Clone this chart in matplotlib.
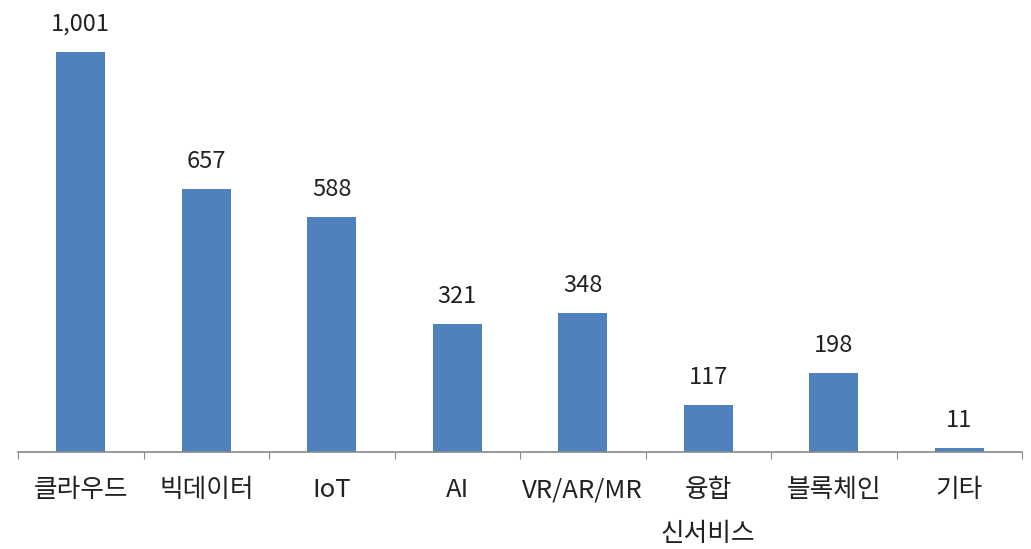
import matplotlib.pyplot as plt

plt.rcParams['font.family'] = ['Noto Sans CJK KR', 'DejaVu Sans']

categories = ['클라우드', '빅데이터', 'IoT', 'AI', 'VR/AR/MR', '융합\n신서비스', '블록체인', '기타']
values = [1001, 657, 588, 321, 348, 117, 198, 11]
value_labels = ['1,001', '657', '588', '321', '348', '117', '198', '11']

fig = plt.figure(figsize=(10.31, 5.49), dpi=100)
ax = fig.add_axes([18 / 1031, 97 / 549, 1004 / 1031, 452 / 549])

x = range(len(categories))
bars = ax.bar(x, values, width=0.39, color='#4f81bd')

for b, lab in zip(bars, value_labels):
    ax.text(b.get_x() + b.get_width() / 2, b.get_height() + 40, lab,
            ha='center', va='bottom', fontsize=17, color='#222222')

ax.set_xlim(-0.5, len(categories) - 0.5)
ax.set_ylim(0, 1131)
ax.set_yticks([])
for s in ['top', 'right', 'left']:
    ax.spines[s].set_visible(False)
ax.spines['bottom'].set_color('#888888')
ax.spines['bottom'].set_linewidth(1.2)

ax.set_xticks([i - 0.5 for i in range(len(categories) + 1)], minor=False)
ax.set_xticklabels([])
ax.tick_params(axis='x', which='major', length=5, color='#888888', direction='out')
ax.set_xticks(list(x), minor=True)
ax.set_xticklabels(categories, minor=True, fontsize=18.5, color='#222222',
                   linespacing=1.9, va='top')
ax.tick_params(axis='x', which='minor', length=0, pad=18)

fig.savefig('out.png', dpi=100)
